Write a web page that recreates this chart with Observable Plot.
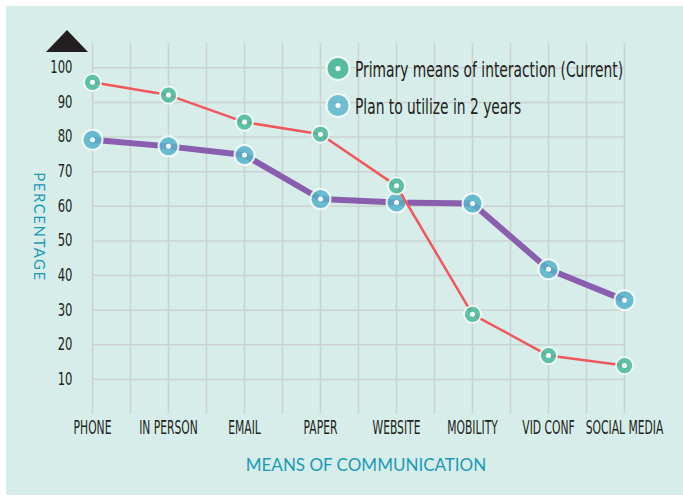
<!DOCTYPE html>
<html>
<head>
<meta charset="utf-8">
<script src="https://cdn.jsdelivr.net/npm/d3@7"></script>
<script src="https://cdn.jsdelivr.net/npm/@observablehq/plot@0.6"></script>
<style>
  html, body { margin: 0; padding: 0; background: #ffffff; }
  #wrap { position: relative; width: 683px; height: 500px; overflow: hidden; }
  #panel { position: absolute; left: 6px; top: 6px; width: 677px; height: 489px; background: #d6ede9; }
  #chart { position: absolute; left: 0; top: 0; }
</style>
</head>
<body>
<div id="wrap"><div id="panel"></div><div id="chart"></div></div>
<script>
const categories = ["PHONE", "IN PERSON", "EMAIL", "PAPER", "WEBSITE", "MOBILITY", "VID CONF", "SOCIAL MEDIA"];
const currentValues = [95.8, 92.1, 84.3, 80.8, 65.9, 28.8, 16.9, 14.0];
const planValues = [79.2, 77.3, 74.8, 62.1, 61.1, 60.8, 41.8, 32.9];
const yTicks = [10, 20, 30, 40, 50, 60, 70, 80, 90, 100];
const seriesNames = ["Primary means of interaction (Current)", "Plan to utilize in 2 years"];
const xTitle = "MEANS OF COMMUNICATION";
const yTitle = "PERCENTAGE";

const current = categories.map((c, i) => ({i, cat: c, v: currentValues[i]}));
const plan = categories.map((c, i) => ({i, cat: c, v: planValues[i]}));

const RED = "#f2575b", PURPLE = "#8a5eaf", GREEN = "#4dbb9d", BLUE = "#55b3cb";
const GRID = "#cbd3d2", TEAL = "#1b9ab8", DARK = "#231f20";
const narrow = "'Liberation Sans Narrow', 'DejaVu Sans Condensed', sans-serif";

const xGrid = d3.range(0, categories.length - 0.99, 0.5);

const chart = Plot.plot({
  width: 683,
  height: 500,
  marginLeft: 92,
  marginRight: 59,
  marginTop: 43,
  marginBottom: 86.4,
  style: {background: "transparent", fontFamily: narrow, color: DARK},
  x: {domain: [0, categories.length - 1]},
  y: {domain: [0, 107]},
  marks: [
    Plot.ruleX(xGrid, {x: d => d, y1: 0, y2: 107, stroke: GRID, strokeWidth: 1.5}),
    Plot.ruleY(yTicks, {y: d => d, x1: 0, x2: categories.length - 1, stroke: GRID, strokeWidth: 1.5}),
    Plot.axisY({ticks: yTicks, tickSize: 0, tickPadding: 20, label: null, fontSize: 15, tickFormat: d => String(d)}),
    Plot.axisX({ticks: d3.range(categories.length), tickSize: 0, tickPadding: 6.5, label: null, fontSize: 13, tickFormat: i => categories[i]}),
    Plot.line(plan, {x: "i", y: "v", stroke: PURPLE, strokeWidth: 6, strokeLinejoin: "round"}),
    Plot.dot(plan, {x: "i", y: "v", r: 10, fill: BLUE, fillOpacity: 0.85, stroke: "white", strokeWidth: 2, strokeOpacity: 0.85}),
    Plot.dot(plan, {x: "i", y: "v", r: 2.5, fill: "white"}),
    Plot.line(current, {x: "i", y: "v", stroke: RED, strokeWidth: 2.5}),
    Plot.dot(current, {x: "i", y: "v", r: 8.5, fill: GREEN, fillOpacity: 0.88, stroke: "white", strokeWidth: 1.8, strokeOpacity: 0.85}),
    Plot.dot(current, {x: "i", y: "v", r: 2.5, fill: "white"})
  ]
});

document.getElementById("chart").appendChild(chart);
const svg = d3.select(chart);

function stretch(sel, sx, sy) {
  sel.each(function() {
    const t = d3.select(this);
    const tr = t.attr("transform");
    if (tr) {
      t.attr("transform", tr + ` scale(${sx},${sy})`);
    } else {
      const x = +t.attr("x") || 0, y = +t.attr("y") || 0;
      t.attr("transform", `translate(${x},${y}) scale(${sx},${sy}) translate(${-x},${-y})`);
    }
  });
}
const catSet = new Set(categories);
const tickSet = new Set(yTicks.map(String));
stretch(svg.selectAll("text").filter(function() { return catSet.has(this.textContent); }), 0.92, 1.45);
stretch(svg.selectAll("text").filter(function() { return tickSet.has(this.textContent); }), 0.86, 1.13);

// decorative arrow head above y axis
svg.append("polygon").attr("points", "46,52 67,30 88,52").attr("fill", DARK);

// axis titles
svg.append("text")
  .attr("transform", "translate(38,227) rotate(90)")
  .attr("text-anchor", "middle").attr("dominant-baseline", "middle")
  .attr("font-family", "Lato, 'Open Sans', sans-serif").attr("font-size", 15)
  .attr("letter-spacing", 1.5).attr("fill", TEAL).text(yTitle);
svg.append("text")
  .attr("x", 366).attr("y", 471)
  .attr("text-anchor", "middle")
  .attr("font-family", "Lato, 'Open Sans', sans-serif").attr("font-size", 17)
  .attr("fill", TEAL).text(xTitle);

// legend
const legendColors = [GREEN, BLUE];
const legend = svg.append("g");
seriesNames.forEach((name, k) => {
  const cy = 68.5 + k * 37;
  legend.append("circle").attr("cx", 338).attr("cy", cy).attr("r", 11.5)
    .attr("fill", legendColors[k]).attr("fill-opacity", k === 0 ? 0.95 : 0.8)
    .attr("stroke", "white").attr("stroke-width", 2).attr("stroke-opacity", 0.85);
  legend.append("circle").attr("cx", 338).attr("cy", cy).attr("r", 2.5).attr("fill", "white");
  legend.append("text")
    .attr("transform", `translate(355,${cy + 8}) scale(0.81,1.15)`)
    .attr("text-anchor", "start")
    .attr("font-family", narrow).attr("font-size", 19).attr("fill", DARK)
    .text(name);
});
</script>
</body>
</html>
